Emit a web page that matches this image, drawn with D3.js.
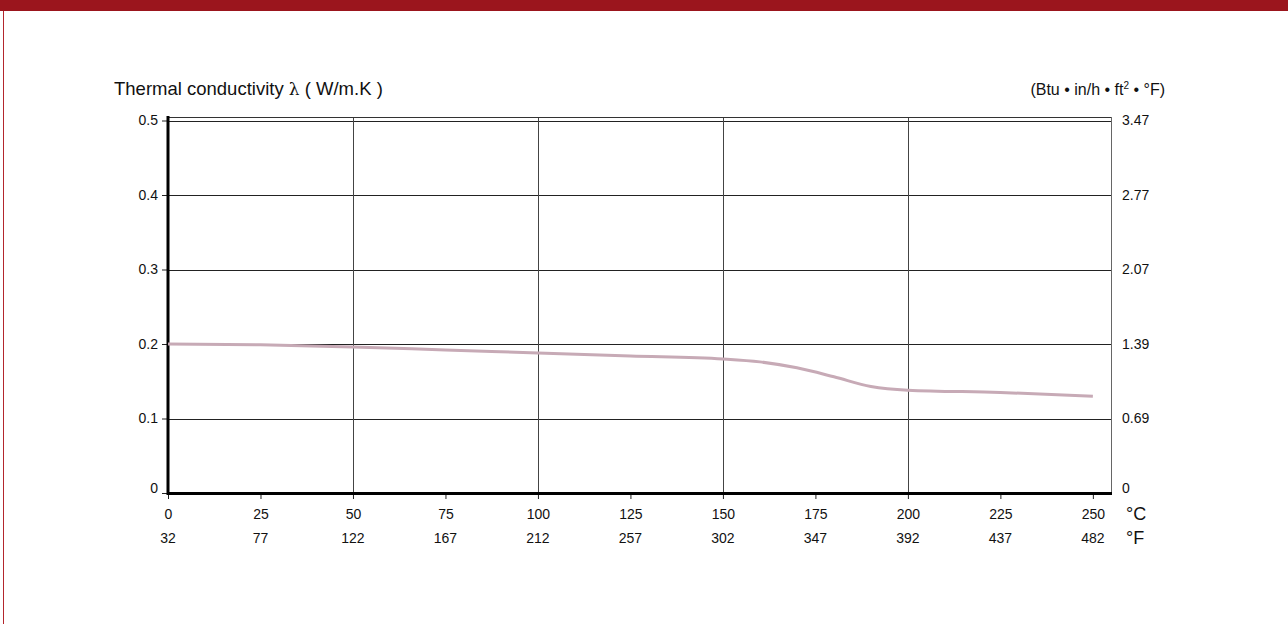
<!DOCTYPE html>
<html><head><meta charset="utf-8">
<script src="https://cdn.jsdelivr.net/npm/d3@7"></script>
<style>
html,body{margin:0;padding:0;background:#fff;}
svg{display:block;font-family:"Liberation Sans",Arial,Helvetica,sans-serif;}
</style></head>
<body>
<svg id="chart" width="1288" height="624"></svg>
<script>
// Data
const tempC = [0, 25, 50, 75, 100, 125, 150, 160, 170, 180, 190, 200, 225, 250];
const lambda = [0.200, 0.199, 0.196, 0.192, 0.188, 0.184, 0.180, 0.176, 0.168, 0.156, 0.143, 0.138, 0.135, 0.130];
const xTicksC = [0, 25, 50, 75, 100, 125, 150, 175, 200, 225, 250];
const xTicksF = ["32", "77", "122", "167", "212", "257", "302", "347", "392", "437", "482"];
const xGrid = [50, 100, 150, 200];
const yTicks = [0, 0.1, 0.2, 0.3, 0.4, 0.5];
const yLeftLabels = ["0", "0.1", "0.2", "0.3", "0.4", "0.5"];
const yRightLabels = ["0", "0.69", "1.39", "2.07", "2.77", "3.47"];

const svg = d3.select("#chart");
const L = 168, R = 1111, T = 117, B = 493;
const x = d3.scaleLinear().domain([0, 254.9]).range([L, R]);
const y = d3.scaleLinear().domain([0, 0.5]).range([B, 120.5]);
const FONT = "Liberation Sans, Arial, sans-serif";

// page frame
svg.append("rect").attr("x", 0).attr("y", 0).attr("width", 1288).attr("height", 11).attr("fill", "#9b151d");
svg.append("line").attr("x1", 3.5).attr("x2", 3.5).attr("y1", 11).attr("y2", 624).attr("stroke", "#b3262d").attr("stroke-width", 1);

// horizontal grid
svg.append("g").selectAll("line").data(yTicks.filter(d => d > 0)).join("line")
  .attr("x1", L).attr("x2", R).attr("y1", d => Math.round(y(d)) + 0.5).attr("y2", d => Math.round(y(d)) + 0.5)
  .attr("stroke", "#222").attr("stroke-width", 1);
// vertical grid
svg.append("g").selectAll("line").data(xGrid).join("line")
  .attr("x1", d => Math.round(x(d)) + 0.5).attr("x2", d => Math.round(x(d)) + 0.5).attr("y1", T).attr("y2", B)
  .attr("stroke", "#444").attr("stroke-width", 1);
// top frame & right frame
svg.append("line").attr("x1", L).attr("x2", R).attr("y1", T + 0.5).attr("y2", T + 0.5).attr("stroke", "#333");
svg.append("line").attr("x1", R + 0.5).attr("x2", R + 0.5).attr("y1", T).attr("y2", B).attr("stroke", "#666");

// left axis
const yAxisL = d3.axisLeft(y).tickValues(yTicks).tickFormat((d, i) => yLeftLabels[i]).tickSize(6).tickPadding(4);
const gl = svg.append("g").attr("transform", `translate(${L},0)`).call(yAxisL);
gl.select(".domain").remove();
gl.selectAll(".tick line").attr("stroke", "#222");
gl.selectAll("text").attr("font-size", 14).attr("fill", "#111").attr("font-family", FONT)
  .attr("dy", d => d === 0 ? "-0.05em" : "0.32em");

// right axis labels
const yAxisR = d3.axisRight(y).tickValues(yTicks).tickFormat((d, i) => yRightLabels[i]).tickSize(0).tickPadding(11);
const gr = svg.append("g").attr("transform", `translate(${R},0)`).call(yAxisR);
gr.select(".domain").remove();
gr.selectAll("text").attr("font-size", 14).attr("fill", "#111").attr("font-family", FONT)
  .attr("dy", d => d === 0 ? "-0.05em" : "0.32em");

// bottom axis (°C)
const xAxis = d3.axisBottom(x).tickValues(xTicksC).tickFormat(d3.format("d")).tickSize(6).tickPadding(10);
const gb = svg.append("g").attr("transform", `translate(0,${B})`).call(xAxis);
gb.select(".domain").remove();
gb.selectAll(".tick line").attr("stroke", "#222");
gb.selectAll("text").attr("font-size", 14).attr("fill", "#111").attr("font-family", FONT)
  .attr("y", 26).attr("dy", 0);

// °F labels
svg.append("g").selectAll("text").data(xTicksC).join("text")
  .attr("x", d => x(d)).attr("y", 543).attr("text-anchor", "middle")
  .attr("font-size", 14).attr("fill", "#111").text((d, i) => xTicksF[i]);

// thick axes lines
svg.append("line").attr("x1", L).attr("x2", R + 1).attr("y1", B + 0.5).attr("y2", B + 0.5).attr("stroke", "#000").attr("stroke-width", 3);
svg.append("line").attr("x1", L).attr("x2", L).attr("y1", T - 1).attr("y2", B + 2).attr("stroke", "#000").attr("stroke-width", 3);

// curve
const line = d3.line().x((d, i) => x(tempC[i])).y(d => y(d)).curve(d3.curveMonotoneX);
svg.append("path").attr("d", line(lambda)).attr("fill", "none").attr("stroke", "#c7aab6").attr("stroke-width", 3).attr("stroke-linecap", "butt");

// unit labels
svg.append("text").attr("x", 1126).attr("y", 520).attr("font-size", 18).attr("fill", "#111").text("°C");
svg.append("text").attr("x", 1126).attr("y", 544).attr("font-size", 18).attr("fill", "#111").text("°F");

// titles
const lt = svg.append("text").attr("x", 114).attr("y", 95).attr("font-size", 18.5).attr("fill", "#111");
lt.append("tspan").text("Thermal conductivity  ");
lt.append("tspan").attr("font-family", "DejaVu Serif, serif").attr("font-size", 17).text("λ");
lt.append("tspan").text(" ( W/m.K )");
const rt = svg.append("text").attr("x", 1165).attr("y", 95).attr("text-anchor", "end").attr("font-size", 16).attr("fill", "#111");
rt.append("tspan").text("(Btu • in/h • ft");
rt.append("tspan").attr("dy", -6).attr("font-size", 10).text("2");
rt.append("tspan").attr("dy", 6).text(" • °F)");
</script>
</body></html>
